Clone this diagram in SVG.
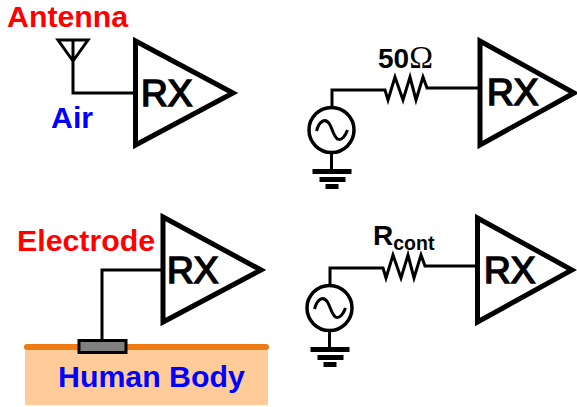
<svg xmlns="http://www.w3.org/2000/svg" width="577" height="407" viewBox="0 0 577 407">
<defs>
<style>
text{font-family:"Liberation Sans",Arial,sans-serif;font-weight:bold}
.lbl{font-size:30.300px}
.rx{font-size:37px;fill:#000;font-weight:normal;stroke:#000;stroke-width:1.600}
.val{font-size:28px;fill:#000}
.red{fill:#ff0000}
.blue{fill:#0000ff}
.amp{fill:none;stroke:#000;stroke-width:5;stroke-miterlimit:10}
.w{fill:none;stroke:#000;stroke-width:3}
.g{fill:#000;stroke:none}
</style>
<g id="src">
<circle class="w" style="stroke-width:3.5" cx="0" cy="0" r="22.5"/>
<path class="w" d="M-15,1 C-12,-10 -6,-12 -2,-6 C1,-1 2,6 6,9 C10,11 14,6 16,0"/>
<path class="w" d="M0,24 V39"/>
<rect class="g" x="-19" y="39" width="39" height="5"/>
<rect class="g" x="-12" y="47" width="26" height="5"/>
<rect class="g" x="-6" y="54" width="13" height="5"/>
</g>
</defs>
<rect width="577" height="407" fill="#fff"/>
<g id="connectors">
<path class="w" d="M58,40 H88 L73,61 Z M73,40 V93 H135"/>
<path class="w" d="M332,107 V90 H385 L388,100 L395,77 L403,100 L410,77 L416,100 L423,77 L427,88 H478"/>
<path class="w" d="M102,340 V270 H163"/>
<path class="w" d="M330,285 V268 H383 L386,278 L393,255 L401,278 L408,255 L414,278 L421,255 L425,266 H476"/>
</g>
<g id="antenna-rx">
<path class="amp" d="M135.5,41 V145 L233,93 Z"/>
<text class="rx" x="141" y="106">RX</text>
<text class="lbl red" x="7" y="27">Antenna</text>
<text class="lbl blue" x="51" y="128">Air</text>
</g>
<g id="source-50">
<use href="#src" x="331.500" y="130"/>
<path class="amp" d="M480,41 V145 L574,93 Z"/>
<text class="rx" x="487" y="105">RX</text>
<text class="val" x="378" y="68">50<tspan font-family="Liberation Serif" font-weight="normal" font-size="32px">Ω</tspan></text>
</g>
<g id="body">
<rect x="25" y="347" width="243" height="58" fill="#ffcc99"/>
<path d="M27,347 H266" fill="none" stroke="#f07a14" stroke-width="6" stroke-linecap="round"/>
<rect x="79" y="340.500" width="47" height="12" fill="#808080" stroke="#000" stroke-width="3"/>
<text class="lbl blue" x="58" y="387">Human Body</text>
</g>
<g id="electrode-rx">
<path class="amp" d="M163,217 V322 L261,270 Z"/>
<text class="rx" x="167" y="283">RX</text>
<text class="lbl red" x="17" y="251">Electrode</text>
</g>
<g id="source-rcont">
<use href="#src" x="329.500" y="308"/>
<path class="amp" d="M477.500,218 V322 L572,270 Z"/>
<text class="rx" x="484" y="283">RX</text>
<text class="val" x="373" y="245">R<tspan font-size="19.500px" dy="5">cont</tspan></text>
</g>
</svg>
